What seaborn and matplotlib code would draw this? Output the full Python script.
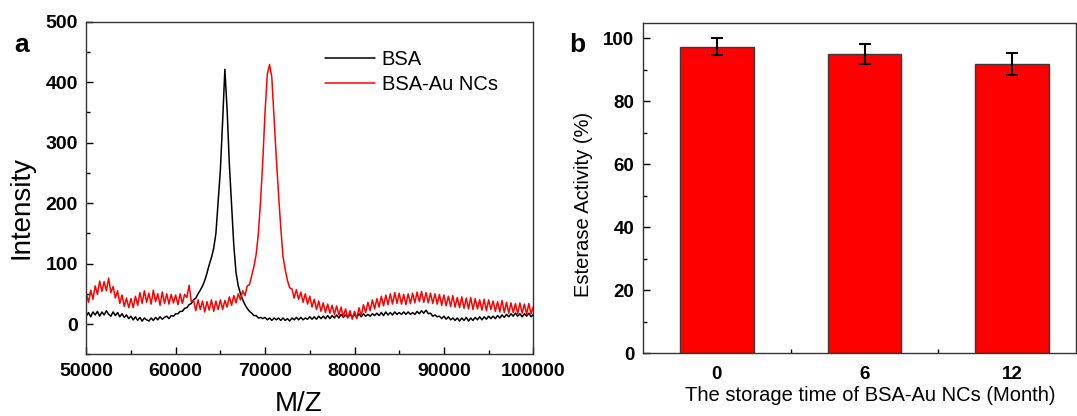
import numpy as np
import pandas as pd
import matplotlib
matplotlib.use("Agg")
import matplotlib.pyplot as plt
from matplotlib.ticker import AutoMinorLocator, MultipleLocator, FixedLocator
import seaborn as sns

# ---- panel a: mass spectra (M/Z grid, 250 steps) ----
mz = np.arange(50000, 100001, 250)

bsa = [
    13, 19, 12, 20, 15, 21, 13, 20, 15, 22, 16, 13, 20, 14, 19, 12, 17, 11, 15, 9,
    13, 7, 12, 6, 11, 5, 10, 7, 5, 10, 6, 11, 7, 12, 8, 11, 13, 9, 14, 13,
    17, 17, 21, 21, 26, 27, 32, 34, 40, 43, 50, 56, 63, 72, 84, 98, 110, 125, 150, 203,
    255, 335, 421, 355, 265, 196, 130, 85, 63, 50, 40, 32, 26, 21, 18, 14, 14, 10, 11, 9,
    11, 7, 10, 6, 10, 7, 10, 6, 10, 6, 9, 5, 10, 7, 11, 7, 11, 7, 10, 8,
    12, 8, 12, 8, 13, 9, 13, 9, 14, 9, 14, 10, 15, 10, 16, 11, 15, 11, 16, 12,
    16, 11, 17, 12, 17, 13, 16, 13, 17, 14, 18, 14, 19, 14, 20, 15, 19, 15, 20, 16,
    19, 16, 20, 16, 20, 16, 19, 16, 21, 17, 22, 18, 23, 17, 18, 13, 15, 12, 13, 9,
    13, 8, 12, 7, 10, 6, 10, 5, 10, 6, 11, 5, 10, 6, 11, 7, 12, 7, 12, 8,
    13, 9, 13, 9, 14, 10, 15, 11, 16, 12, 17, 13, 18, 13, 17, 12, 17, 13, 18, 12,
    16,
]

bsa_au = [
    50, 36, 56, 41, 63, 49, 71, 54, 70, 55, 76, 52, 62, 43, 55, 34, 48, 29, 43, 27,
    42, 27, 46, 31, 52, 34, 55, 36, 51, 33, 56, 37, 50, 31, 53, 34, 50, 33, 49, 35,
    48, 32, 50, 34, 49, 44, 64, 37, 39, 22, 40, 24, 38, 20, 37, 23, 40, 21, 38, 24,
    40, 24, 39, 28, 45, 31, 47, 35, 50, 40, 55, 47, 63, 65, 80, 95, 115, 150, 205, 272,
    352, 413, 429, 408, 341, 275, 215, 160, 112, 90, 72, 60, 58, 43, 57, 41, 53, 36, 50, 33,
    46, 28, 41, 24, 38, 21, 35, 19, 33, 18, 31, 16, 30, 15, 28, 12, 25, 10, 22, 8,
    21, 9, 27, 14, 32, 19, 36, 22, 40, 25, 42, 28, 46, 30, 48, 32, 50, 33, 52, 34,
    51, 33, 49, 32, 50, 34, 51, 35, 53, 37, 54, 36, 52, 35, 51, 34, 50, 33, 49, 31,
    48, 30, 46, 29, 47, 28, 44, 27, 45, 26, 43, 25, 44, 24, 42, 25, 40, 23, 41, 22,
    40, 24, 38, 21, 37, 20, 39, 19, 36, 18, 35, 19, 34, 17, 35, 18, 33, 16, 34, 17,
    29,
]

# ---- panel b: esterase activity ----
months = ["0", "6", "12"]
activity = [97.4, 95.0, 91.9]
activity_err = [2.6, 3.1, 3.6]

sns.set_style("ticks", {"xtick.direction": "in", "ytick.direction": "in"})
plt.rcParams["font.family"] = ["Liberation Sans", "DejaVu Sans"]
plt.rcParams["text.color"] = "black"
plt.rcParams["axes.labelcolor"] = "black"
plt.rcParams["xtick.color"] = "black"
plt.rcParams["ytick.color"] = "black"

spec = pd.concat([
    pd.DataFrame({"mz": mz, "intensity": bsa, "sample": "BSA"}),
    pd.DataFrame({"mz": mz, "intensity": bsa_au, "sample": "BSA-Au NCs"}),
])

fig = plt.figure(figsize=(10.77, 4.16), dpi=100)
ax1 = fig.add_axes([0.0801, 0.1483, 0.4151, 0.8000])
ax2 = fig.add_axes([0.5967, 0.1514, 0.4024, 0.7940])

spine_col = "#333333"

# panel a
sns.lineplot(data=spec, x="mz", y="intensity", hue="sample",
             palette=["black", "red"], linewidth=1.1, estimator=None, ax=ax1)
ax1.set_xlim(50000, 100000)
ax1.set_ylim(-50, 500)
ax1.xaxis.set_major_locator(MultipleLocator(10000))
ax1.xaxis.set_minor_locator(AutoMinorLocator(2))
ax1.yaxis.set_major_locator(MultipleLocator(100))
ax1.yaxis.set_minor_locator(AutoMinorLocator(2))
ax1.set_xlabel("M/Z", fontsize=20)
ax1.set_ylabel("Intensity", fontsize=20)
ax1.xaxis.set_label_coords(0.475, -0.11)
ax1.yaxis.set_label_coords(-0.115, 0.44)
ax1.legend(title=None, frameon=False, fontsize=14.5, loc="upper left",
           bbox_to_anchor=(0.535, 0.915), borderaxespad=0, borderpad=0,
           handlelength=2.45, handletextpad=0.35, labelspacing=0.3)
ax1.tick_params(axis="both", which="major", labelsize=14, length=5, width=1, pad=6)
ax1.tick_params(axis="both", which="minor", length=3, width=1)

# panel b
sns.barplot(x=months, y=activity, order=months, width=0.5, color="red",
            saturation=1, edgecolor="#3a3a3a", linewidth=1.0, ax=ax2)
centers = [p.get_x() + p.get_width() / 2 for p in ax2.patches]
ax2.errorbar(centers, activity, yerr=activity_err, fmt="none", ecolor="black",
             elinewidth=1.5, capsize=4, capthick=1.5)
ax2.set_xlim(-0.5, 2.43)
ax2.set_ylim(0, 105)
ax2.yaxis.set_major_locator(MultipleLocator(20))
ax2.yaxis.set_minor_locator(AutoMinorLocator(2))
ax2.xaxis.set_minor_locator(FixedLocator([0.5, 1.5]))
ax2.set_xlabel("The storage time of BSA-Au NCs (Month)", fontsize=14.5)
ax2.set_ylabel("Esterase Activity (%)", fontsize=14.5)
ax2.xaxis.set_label_coords(0.526, -0.1)
ax2.yaxis.set_label_coords(-0.115, 0.45)
ax2.tick_params(axis="both", which="major", labelsize=13.5, length=5, width=1, pad=6)
ax2.tick_params(axis="x", which="major", pad=9)
ax2.tick_params(axis="both", which="minor", length=3, width=1)

for ax in (ax1, ax2):
    for s in ax.spines.values():
        s.set_visible(True)
        s.set_color(spine_col)
        s.set_linewidth(1.0)
    for lab in ax.get_xticklabels() + ax.get_yticklabels():
        lab.set_fontweight("bold")

fig.text(14 / 1077, 1 - 45 / 416, "a", fontsize=19, fontweight="bold", va="center")
fig.text(569 / 1077, 1 - 45 / 416, "b", fontsize=19, fontweight="bold", va="center")

fig.savefig("out.png", dpi=100)
